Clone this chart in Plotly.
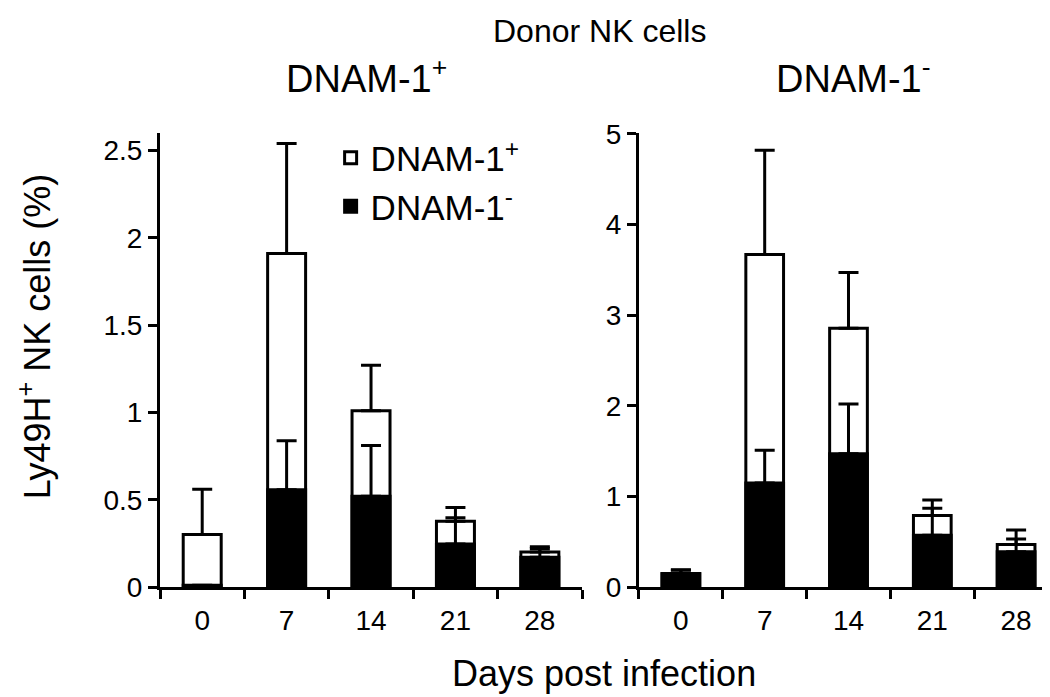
import plotly.graph_objects as go
from plotly.subplots import make_subplots

days = ["0", "7", "14", "21", "28"]

# left panel: donor DNAM-1+ NK cells
left_pos = [0.30, 1.91, 1.01, 0.376, 0.20]
left_pos_err = [0.26, 0.63, 0.26, 0.08, 0.03]
left_neg = [0.01, 0.557, 0.52, 0.246, 0.17]
left_neg_err = [0.0, 0.28, 0.29, 0.15, 0.05]

# right panel: donor DNAM-1- NK cells
right_pos = [0.15, 3.67, 2.855, 0.79, 0.47]
right_pos_err = [0.04, 1.15, 0.615, 0.17, 0.16]
right_neg = [0.145, 1.148, 1.47, 0.57, 0.39]
right_neg_err = [0.04, 0.36, 0.55, 0.30, 0.14]

FONT = "Liberation Sans, Arial, sans-serif"
LW = 3

fig = make_subplots(rows=1, cols=2, horizontal_spacing=0.0634,
                    column_widths=[0.47, 0.4666])

xs = list(range(len(days)))


def add_panel(col, pos, pos_err, neg, neg_err, legend):
    fig.add_trace(go.Bar(
        x=xs, y=pos, width=0.45, name="DNAM-1<sup>+</sup>",
        marker=dict(color="white", line=dict(color="black", width=LW)),
        error_y=dict(type="data", symmetric=False, array=pos_err,
                     arrayminus=[0] * len(pos), color="black",
                     thickness=LW, width=10),
        showlegend=legend,
    ), row=1, col=col)
    fig.add_trace(go.Bar(
        x=xs, y=neg, width=0.45, name="DNAM-1<sup>-</sup>",
        marker=dict(color="black", line=dict(color="black", width=LW)),
        error_y=dict(type="data", symmetric=False, array=neg_err,
                     arrayminus=[0] * len(neg), color="black",
                     thickness=LW, width=10),
        showlegend=legend,
    ), row=1, col=col)


add_panel(1, left_pos, left_pos_err, left_neg, left_neg_err, True)
add_panel(2, right_pos, right_pos_err, right_neg, right_neg_err, False)

xaxis_style = dict(
    range=[-0.5, 4.5], tickmode="array", tickvals=xs, ticktext=days,
    ticks="outside", ticklen=6, tickcolor="rgba(0,0,0,0)",
    showline=True, linecolor="black", linewidth=LW,
    showgrid=False, zeroline=False,
    tickfont=dict(size=28, color="black", family=FONT),
    minor=dict(tickmode="array", tickvals=[-0.5, 0.5, 1.5, 2.5, 3.5, 4.5],
               ticks="outside", ticklen=9, tickwidth=LW, tickcolor="black"),
)
fig.update_xaxes(**xaxis_style)

yaxis_style = dict(
    ticks="outside", ticklen=9, tickwidth=LW, tickcolor="black",
    showline=True, linecolor="black", linewidth=LW,
    showgrid=False, zeroline=False,
    tickfont=dict(size=28, color="black", family=FONT),
)
fig.update_yaxes(range=[0, 2.6], dtick=0.5, **yaxis_style, row=1, col=1)
fig.update_yaxes(range=[0, 5.01], dtick=1, **yaxis_style, row=1, col=2)


def label(text, x, y, size, angle=0):
    return dict(text=text, x=x, y=y, xref="paper", yref="paper",
                xanchor="center", yanchor="middle", textangle=angle,
                showarrow=False, font=dict(size=size, family=FONT, color="black"))


fig.update_layout(
    width=1050, height=697,
    margin=dict(l=152, r=0, t=125, b=118),
    paper_bgcolor="white", plot_bgcolor="white",
    barmode="overlay", bargap=0.5,
    font=dict(family=FONT, color="black", size=28),
    legend=dict(x=0.19, y=1.01, xanchor="left", yanchor="top",
                font=dict(size=35, family=FONT, color="black"),
                bgcolor="rgba(0,0,0,0)", traceorder="normal"),
    annotations=[
        label("Donor NK cells", 0.489, 1.225, 32),
        label("DNAM-1<sup>+</sup>", 0.2305, 1.125, 38),
        label("DNAM-1<sup>-</sup>", 0.772, 1.125, 38),
        label("Days post infection", 0.494, -0.19, 36),
        label("Ly49H<sup>+</sup> NK cells (%)", -0.14, 0.551, 36, -90),
    ],
)

fig.write_html("out.html")
